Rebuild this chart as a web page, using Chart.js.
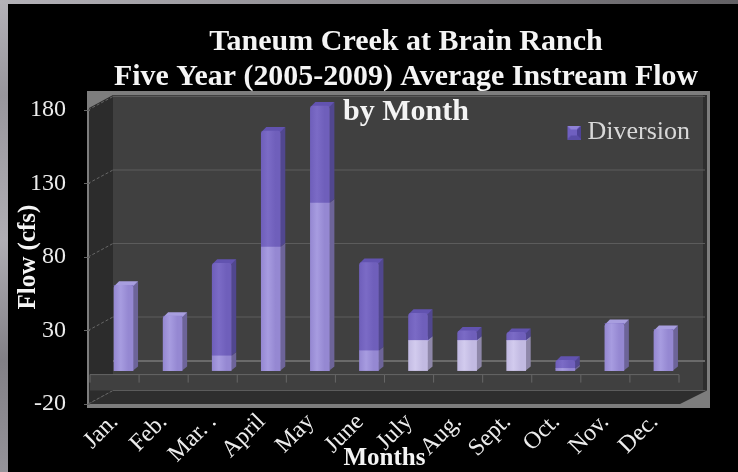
<!DOCTYPE html>
<html>
<head>
<meta charset="utf-8">
<title>Taneum Creek at Brain Ranch</title>
<style>
  html, body { margin: 0; padding: 0; background: #000; }
  canvas { display: block; }
</style>
<script src="https://cdn.jsdelivr.net/npm/chart.js@4"></script>
</head>
<body>
<canvas id="chart" width="738" height="472"></canvas>
<script>
const months = ["Jan.", "Feb.", "Mar. .", "April", "May", "June", "July", "Aug.", "Sept.", "Oct.", "Nov.", "Dec."];
const instream = [58, 37, 10, 84, 114, 13.5, 20.5, 20.5, 20.5, 1.5, 32, 28];
const diversion = [0, 0, 63, 79, 66, 60, 18.5, 6.5, 5.5, 5.5, 0, 0];
const titleLines = ["Taneum Creek at Brain Ranch", "Five Year (2005-2009) Average Instream Flow", "by Month"];
const paleMonths = ["July", "Aug.", "Sept."];

const FONT = "'Liberation Serif', serif";
const TEXT = "#ececec";
// bar depth, in pixels
const DX = 5;
const DY = 4;
// shift of the bars and of the back wall from the front axis
const BAR_DX = 9;
const BAR_DY = -4;
const WALL_DY = -13.5;

function faceGradient(ctx, x, w, light, mid) {
  const g = ctx.createLinearGradient(x - w / 2, 0, x + w / 2, 0);
  g.addColorStop(0, mid);
  g.addColorStop(0.35, light);
  g.addColorStop(0.75, mid);
  g.addColorStop(1, mid);
  return g;
}

function barFill(light, mid, paleLight, paleMid) {
  return function(c) {
    const chart = c.chart;
    const x = chart.scales.x ? chart.scales.x.getPixelForValue(c.dataIndex) : NaN;
    // the legend asks for a colour before the scales are laid out
    if (!Number.isFinite(x)) return mid;
    const pale = paleLight && paleMonths.includes(months[c.dataIndex]);
    return faceGradient(chart.ctx, x, 19, pale ? paleLight : light, pale ? paleMid : mid);
  };
}

// small bevelled square for the legend
function legendSwatch() {
  const c = document.createElement("canvas");
  c.width = 14;
  c.height = 14;
  const x = c.getContext("2d");
  x.fillStyle = "#6f5fc0";
  x.fillRect(0, 0, 14, 14);
  x.fillStyle = "#8f82d8";
  x.beginPath(); x.moveTo(0, 0); x.lineTo(14, 0); x.lineTo(10, 4); x.lineTo(4, 4); x.fill();
  x.fillStyle = "#4d4196";
  x.beginPath(); x.moveTo(14, 0); x.lineTo(14, 14); x.lineTo(10, 10); x.lineTo(10, 4); x.fill();
  x.fillStyle = "#5a4da8";
  x.beginPath(); x.moveTo(0, 14); x.lineTo(14, 14); x.lineTo(10, 10); x.lineTo(4, 10); x.fill();
  return c;
}

function poly(ctx, pts, fill) {
  ctx.fillStyle = fill;
  ctx.beginPath();
  pts.forEach(function(p, i) {
    if (i === 0) ctx.moveTo(p[0], p[1]);
    else ctx.lineTo(p[0], p[1]);
  });
  ctx.closePath();
  ctx.fill();
}

function line(ctx, x1, y1, x2, y2, color, width) {
  ctx.strokeStyle = color;
  ctx.lineWidth = width;
  ctx.beginPath();
  ctx.moveTo(x1, y1);
  ctx.lineTo(x2, y2);
  ctx.stroke();
}

// frame, walls, floor and back grid lines
const roomPlugin = {
  id: "room",
  beforeDraw(chart) {
    const ctx = chart.ctx;
    const a = chart.chartArea;
    const y = chart.scales.y;
    const x = chart.scales.x;

    const frame = ctx.createLinearGradient(0, 0, 60, 472);
    frame.addColorStop(0, "#b4b2b8");
    frame.addColorStop(0.2, "#98969c");
    frame.addColorStop(0.5, "#b0aeb4");
    frame.addColorStop(0.75, "#828086");
    frame.addColorStop(1, "#96949a");
    ctx.fillStyle = frame;
    ctx.fillRect(0, 0, 738, 472);
    const topStrip = ctx.createLinearGradient(0, 0, 738, 0);
    topStrip.addColorStop(0, "#b4b2b8");
    topStrip.addColorStop(1, "#626064");
    ctx.fillStyle = topStrip;
    ctx.fillRect(0, 0, 738, 4);
    ctx.fillStyle = "#000";
    ctx.fillRect(8, 4, 730, 468);

    const left = a.left - 2;
    const backLeft = a.left + 23;
    const right = a.right + 28;
    const bottom = a.bottom;
    const backBottom = bottom + WALL_DY;

    ctx.fillStyle = "#7d7d7d";
    ctx.fillRect(left - 1, 91, right - left + 4, 317);
    // back wall
    poly(ctx, [[backLeft, 95], [right - 4, 95], [right - 4, backBottom], [backLeft, backBottom]], "#404040");
    // side walls
    poly(ctx, [[left + 1, 108], [backLeft, 95], [backLeft, backBottom], [left + 1, bottom]], "#2c2c2c");
    poly(ctx, [[right - 4, 95], [right, 95], [right, backBottom], [right - 4, backBottom]], "#2e2e2e");
    // floor
    poly(ctx, [[left + 1, bottom], [backLeft, backBottom], [right, backBottom], [a.right + 1, bottom]], "#2e2e2e");

    // grid lines on the back wall and along the left wall
    y.ticks.forEach(function(t) {
      const py = y.getPixelForValue(t.value);
      line(ctx, backLeft, py + WALL_DY, right - 2, py + WALL_DY, "#5c5c5c", 1);
      ctx.setLineDash([3, 2]);
      line(ctx, left, py, backLeft, py + WALL_DY, "#666", 1);
      ctx.setLineDash([]);
    });

    // zero line on the back wall, zero line in front, and the month ticks
    const zero = y.getPixelForValue(0);
    line(ctx, backLeft, zero + WALL_DY, right - 2, zero + WALL_DY, "#6a6a6a", 2);
    ctx.fillStyle = "#404040";
    ctx.fillRect(a.left, zero, backLeft - a.left, bottom + WALL_DY - zero);
    line(ctx, a.left, zero, a.right, zero, "#666", 1);
    const band = (x.right - x.left) / months.length;
    for (let i = 0; i <= months.length; i++) {
      line(ctx, x.left + i * band, zero, x.left + i * band, zero + 8, "#666", 1);
    }
  },
  afterLayout(chart) {
    // title and legend sit over the plot, not beside it
    const t = chart.titleBlock;
    t.left = 114;
    t.right = 698;
    const l = chart.legend;
    l.left = 567.5;
    l.right = 738;
    l.top = 110;
    l.bottom = 155;
  },
  beforeDatasetsDraw(chart) {
    const ctx = chart.ctx;
    ctx.save();
    ctx.translate(BAR_DX, BAR_DY);
    chart.data.datasets.forEach(function(ds, di) {
      const meta = chart.getDatasetMeta(di);
      meta.data.forEach(function(bar, i) {
        if (!ds.data[i]) return;
        const p = bar.getProps(["x", "y", "base", "width"]);
        const r = p.x + p.width / 2;
        const l = p.x - p.width / 2;
        const pale = di === 0 && paleMonths.includes(months[i]);
        const side = di === 1 ? "#51478f" : (pale ? "#8f88aa" : "#6d6499");
        poly(ctx, [[r, p.base], [r + DX, p.base - DY], [r + DX, p.y - DY], [r, p.y]], side);
        const onTop = di === 1 || !chart.data.datasets[1].data[i];
        const cap = di === 1 ? "#6253b0" : "#a89edf";
        if (onTop || pale) {
          poly(ctx, [[l, p.y + 1], [l + DX, p.y - DY], [r + DX, p.y - DY], [r, p.y + 1]], cap);
        }
      });
    });
  },
  afterDatasetsDraw(chart) {
    chart.ctx.restore();
  }
};

new Chart(document.getElementById("chart"), {
  type: "bar",
  data: {
    labels: months,
    datasets: [
      {
        label: "Instream Flow",
        data: instream,
        backgroundColor: barFill("#a79ce0", "#9588d2", "#d2cbee", "#c2bae2"),
        barThickness: 19,
        borderRadius: 3,
        clip: false
      },
      {
        label: "Diversion",
        data: diversion,
        backgroundColor: barFill("#7b6bc6", "#6f5fbb"),
        barThickness: 19,
        borderRadius: 3,
        clip: false
      }
    ]
  },
  options: {
    responsive: false,
    animation: false,
    layout: { padding: { left: 0, right: 59, top: 0, bottom: 0 } },
    plugins: {
      title: {
        display: true,
        text: titleLines,
        color: "#f4f4f4",
        font: { family: FONT, size: 30, weight: "bold", lineHeight: 35 / 30 },
        padding: { top: 24.5, bottom: -19.5 }
      },
      legend: {
        position: "chartArea",
        labels: {
          filter: function(item) { return item.text === "Diversion"; },
          usePointStyle: true,
          pointStyle: legendSwatch(),
          pointStyleWidth: 1,
          color: "#d8d8d8",
          font: { family: FONT, size: 26 },
          padding: 6
        }
      },
      tooltip: { enabled: false }
    },
    scales: {
      x: {
        stacked: true,
        afterFit: function(s) { s.height = 68; },
        grid: { display: false },
        border: { display: false },
        ticks: {
          color: TEXT,
          font: { family: FONT, size: 24 },
          minRotation: 45,
          maxRotation: 45,
          autoSkip: false,
          padding: -4
        },
        title: {
          display: true,
          text: "Months",
          color: "#f4f4f4",
          font: { family: FONT, size: 25, weight: "bold" },
          padding: { top: 0, bottom: -2 }
        }
      },
      y: {
        stacked: true,
        min: -20,
        max: 180,
        afterFit: function(s) { s.width = 90; },
        grid: { drawOnChartArea: false, tickLength: 6, color: "#666" },
        border: { display: false },
        ticks: {
          stepSize: 50,
          color: TEXT,
          font: { family: FONT, size: 24 },
          padding: 18
        },
        title: {
          display: true,
          text: "Flow (cfs)",
          color: "#f4f4f4",
          font: { family: FONT, size: 25, weight: "bold" },
          padding: { top: 14, bottom: 0 }
        }
      }
    }
  },
  plugins: [roomPlugin]
});
</script>
</body>
</html>
